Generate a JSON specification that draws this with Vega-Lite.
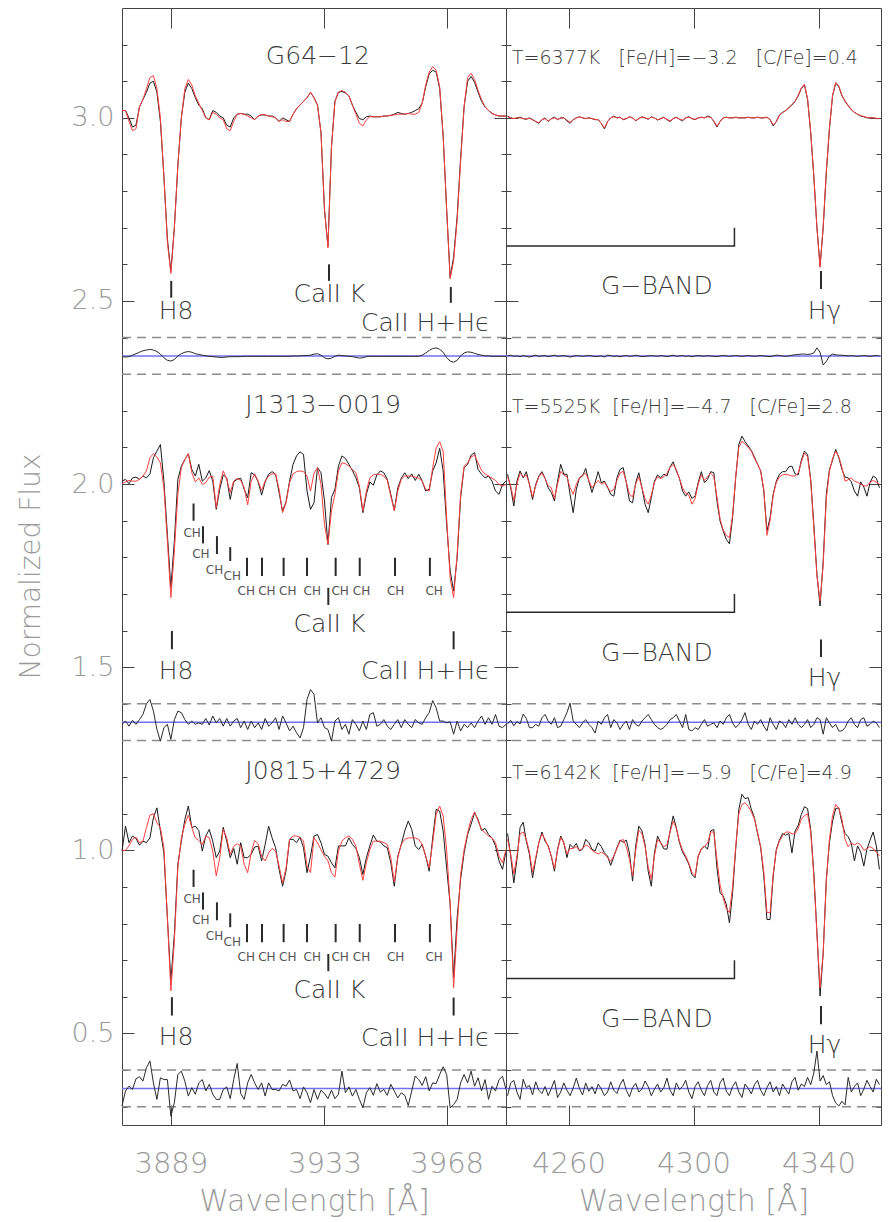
{
"$schema": "https://vega.github.io/schema/vega-lite/v6.json",
"background": "white",
"padding": {"left": 16, "top": 7, "right": 14, "bottom": 5},
"bounds": "flush",
"spacing": 0,
"config": {
  "view": {"stroke": "#444", "strokeWidth": 1},
  "font": "DejaVu Sans",
  "text": {"font": "DejaVu Sans", "fontWeight": 200},
  "axis": {"labelFont": "DejaVu Sans", "labelFontWeight": 200, "titleFont": "DejaVu Sans", "titleFontWeight": 200, "grid": false, "domain": false, "tickColor": "#444", "tickWidth": 1}
},
"datasets": {
"dash": [{"y":2.4},{"y":2.3},{"y":1.4},{"y":1.3},{"y":0.4},{"y":0.3}],
"blue": [{"y":2.35},{"y":1.35},{"y":0.35}],
"L": [
{"w":3875,"o1":3.02,"m1":3.02,"r1":2.348,"o2":2.008,"m2":2.001,"r2":1.344,"o3":0.998,"m3":0.998,"r3":0.302},
{"w":3876,"o1":3.02,"m1":3.02,"r1":2.347,"o2":2.013,"m2":2.006,"r2":1.353,"o3":1.066,"m3":1.0,"r3":0.343},
{"w":3877,"o1":3.0,"m1":2.99,"r1":2.348,"o2":2.001,"m2":2.01,"r2":1.339,"o3":1.021,"m3":1.012,"r3":0.356},
{"w":3878,"o1":2.975,"m1":2.965,"r1":2.352,"o2":2.017,"m2":2.008,"r2":1.355,"o3":1.039,"m3":1.03,"r3":0.347},
{"w":3879,"o1":2.98,"m1":2.97,"r1":2.356,"o2":2.019,"m2":2.008,"r2":1.344,"o3":1.033,"m3":1.036,"r3":0.376},
{"w":3880,"o1":3.03,"m1":3.03,"r1":2.36,"o2":2.013,"m2":2.013,"r2":1.357,"o3":1.014,"m3":1.021,"r3":0.382},
{"w":3881,"o1":3.05,"m1":3.05,"r1":2.364,"o2":2.022,"m2":2.022,"r2":1.371,"o3":1.025,"m3":1.025,"r3":0.37},
{"w":3882,"o1":3.07,"m1":3.08,"r1":2.366,"o2":2.017,"m2":2.036,"r2":1.4,"o3":1.021,"m3":1.062,"r3":0.406},
{"w":3883,"o1":3.095,"m1":3.11,"r1":2.368,"o2":2.028,"m2":2.072,"r2":1.412,"o3":1.034,"m3":1.096,"r3":0.425},
{"w":3884,"o1":3.1,"m1":3.115,"r1":2.366,"o2":2.072,"m2":2.083,"r2":1.38,"o3":1.089,"m3":1.1,"r3":0.365},
{"w":3885,"o1":3.07,"m1":3.08,"r1":2.362,"o2":2.09,"m2":2.074,"r2":1.33,"o3":1.116,"m3":1.075,"r3":0.32},
{"w":3886,"o1":2.99,"m1":3.0,"r1":2.355,"o2":2.108,"m2":2.058,"r2":1.298,"o3":1.053,"m3":1.062,"r3":0.379},
{"w":3887,"o1":2.84,"m1":2.84,"r1":2.345,"o2":2.008,"m2":1.99,"r2":1.335,"o3":0.993,"m3":1.007,"r3":0.374},
{"w":3888,"o1":2.67,"m1":2.66,"r1":2.338,"o2":1.863,"m2":1.845,"r2":1.344,"o3":0.816,"m3":0.816,"r3":0.374},
{"w":3889,"o1":2.58,"m1":2.575,"r1":2.336,"o2":1.717,"m2":1.69,"r2":1.303,"o3":0.643,"m3":0.616,"r3":0.274},
{"w":3890,"o1":2.7,"m1":2.7,"r1":2.34,"o2":1.845,"m2":1.817,"r2":1.357,"o3":0.77,"m3":0.752,"r3":0.311},
{"w":3891,"o1":2.87,"m1":2.87,"r1":2.35,"o2":2.013,"m2":1.972,"r2":1.38,"o3":0.962,"m3":0.952,"r3":0.388},
{"w":3892,"o1":3.0,"m1":3.0,"r1":2.356,"o2":2.049,"m2":2.045,"r2":1.376,"o3":1.025,"m3":1.034,"r3":0.397},
{"w":3893,"o1":3.07,"m1":3.08,"r1":2.36,"o2":2.067,"m2":2.067,"r2":1.357,"o3":1.084,"m3":1.071,"r3":0.37},
{"w":3894,"o1":3.095,"m1":3.105,"r1":2.362,"o2":2.083,"m2":2.083,"r2":1.344,"o3":1.121,"m3":1.096,"r3":0.329},
{"w":3895,"o1":3.08,"m1":3.09,"r1":2.36,"o2":2.04,"m2":2.031,"r2":1.353,"o3":1.062,"m3":1.062,"r3":0.352},
{"w":3896,"o1":3.055,"m1":3.06,"r1":2.356,"o2":2.022,"m2":2.006,"r2":1.344,"o3":1.066,"m3":1.034,"r3":0.334},
{"w":3897,"o1":3.035,"m1":3.04,"r1":2.354,"o2":2.054,"m2":2.017,"r2":1.348,"o3":1.054,"m3":1.027,"r3":0.365},
{"w":3898,"o1":3.025,"m1":3.02,"r1":2.352,"o2":2.008,"m2":1.999,"r2":1.344,"o3":0.998,"m3":1.016,"r3":0.374},
{"w":3899,"o1":3.0,"m1":3.0,"r1":2.35,"o2":2.017,"m2":2.004,"r2":1.36,"o3":1.039,"m3":1.039,"r3":0.343},
{"w":3900,"o1":2.995,"m1":2.995,"r1":2.349,"o2":2.037,"m2":2.019,"r2":1.342,"o3":1.057,"m3":1.034,"r3":0.361},
{"w":3901,"o1":3.02,"m1":3.015,"r1":2.348,"o2":2.008,"m2":2.022,"r2":1.367,"o3":1.025,"m3":0.998,"r3":0.334},
{"w":3902,"o1":3.015,"m1":3.01,"r1":2.347,"o2":1.931,"m2":1.936,"r2":1.348,"o3":0.98,"m3":0.93,"r3":0.32},
{"w":3903,"o1":3.005,"m1":3.0,"r1":2.346,"o2":1.986,"m2":1.999,"r2":1.36,"o3":0.998,"m3":0.98,"r3":0.32},
{"w":3904,"o1":3.0,"m1":2.995,"r1":2.346,"o2":2.025,"m2":2.036,"r2":1.339,"o3":1.063,"m3":1.057,"r3":0.347},
{"w":3905,"o1":2.98,"m1":2.97,"r1":2.347,"o2":2.017,"m2":2.013,"r2":1.36,"o3":1.025,"m3":1.034,"r3":0.354},
{"w":3906,"o1":2.975,"m1":2.965,"r1":2.348,"o2":1.958,"m2":1.977,"r2":1.339,"o3":0.98,"m3":0.989,"r3":0.322},
{"w":3907,"o1":3.0,"m1":2.99,"r1":2.348,"o2":2.006,"m2":2.008,"r2":1.353,"o3":1.005,"m3":1.011,"r3":0.374},
{"w":3908,"o1":3.01,"m1":3.01,"r1":2.348,"o2":2.013,"m2":2.016,"r2":1.36,"o3":0.962,"m3":1.018,"r3":0.418},
{"w":3909,"o1":3.012,"m1":3.012,"r1":2.348,"o2":2.016,"m2":2.01,"r2":1.335,"o3":1.021,"m3":1.012,"r3":0.336},
{"w":3910,"o1":3.01,"m1":3.01,"r1":2.349,"o2":1.986,"m2":1.99,"r2":1.353,"o3":0.98,"m3":0.962,"r3":0.32},
{"w":3911,"o1":3.01,"m1":3.005,"r1":2.349,"o2":1.963,"m2":1.943,"r2":1.33,"o3":0.98,"m3":0.939,"r3":0.365},
{"w":3912,"o1":3.005,"m1":3.0,"r1":2.349,"o2":2.031,"m2":2.008,"r2":1.353,"o3":0.989,"m3":0.993,"r3":0.388},
{"w":3913,"o1":2.995,"m1":2.995,"r1":2.349,"o2":2.025,"m2":2.028,"r2":1.335,"o3":1.009,"m3":1.027,"r3":0.365},
{"w":3914,"o1":3.005,"m1":3.005,"r1":2.349,"o2":2.006,"m2":2.008,"r2":1.348,"o3":1.011,"m3":1.018,"r3":0.347},
{"w":3915,"o1":3.008,"m1":3.01,"r1":2.349,"o2":1.97,"m2":1.983,"r2":1.33,"o3":0.971,"m3":0.984,"r3":0.365},
{"w":3916,"o1":3.008,"m1":3.008,"r1":2.349,"o2":2.006,"m2":2.008,"r2":1.36,"o3":1.016,"m3":0.971,"r3":0.329},
{"w":3917,"o1":3.005,"m1":3.005,"r1":2.349,"o2":2.027,"m2":2.022,"r2":1.339,"o3":1.066,"m3":0.993,"r3":0.365},
{"w":3918,"o1":3.005,"m1":3.003,"r1":2.349,"o2":2.034,"m2":2.028,"r2":1.348,"o3":1.034,"m3":1.005,"r3":0.347},
{"w":3919,"o1":3.0,"m1":3.0,"r1":2.349,"o2":2.027,"m2":2.027,"r2":1.362,"o3":1.007,"m3":0.998,"r3":0.347},
{"w":3920,"o1":2.99,"m1":2.99,"r1":2.349,"o2":1.977,"m2":1.986,"r2":1.33,"o3":0.948,"m3":0.957,"r3":0.343},
{"w":3921,"o1":3.0,"m1":2.995,"r1":2.349,"o2":1.926,"m2":1.922,"r2":1.367,"o3":0.902,"m3":0.911,"r3":0.361},
{"w":3922,"o1":2.995,"m1":2.99,"r1":2.349,"o2":1.952,"m2":1.949,"r2":1.348,"o3":0.945,"m3":0.952,"r3":0.356},
{"w":3923,"o1":2.99,"m1":2.99,"r1":2.349,"o2":2.008,"m2":2.004,"r2":1.326,"o3":1.03,"m3":1.03,"r3":0.373},
{"w":3924,"o1":3.01,"m1":3.01,"r1":2.35,"o2":2.054,"m2":2.028,"r2":1.339,"o3":1.03,"m3":1.039,"r3":0.343},
{"w":3925,"o1":3.025,"m1":3.025,"r1":2.35,"o2":2.077,"m2":2.034,"r2":1.321,"o3":1.021,"m3":1.039,"r3":0.347},
{"w":3926,"o1":3.035,"m1":3.035,"r1":2.35,"o2":2.088,"m2":2.036,"r2":1.307,"o3":1.036,"m3":1.036,"r3":0.322},
{"w":3927,"o1":3.045,"m1":3.045,"r1":2.351,"o2":2.081,"m2":2.034,"r2":1.335,"o3":1.007,"m3":1.025,"r3":0.354},
{"w":3928,"o1":3.055,"m1":3.055,"r1":2.351,"o2":1.981,"m2":2.022,"r2":1.412,"o3":0.939,"m3":0.957,"r3":0.338},
{"w":3929,"o1":3.07,"m1":3.07,"r1":2.352,"o2":1.931,"m2":1.981,"r2":1.439,"o3":0.984,"m3":0.939,"r3":0.311},
{"w":3930,"o1":3.055,"m1":3.055,"r1":2.355,"o2":1.949,"m2":2.03,"r2":1.426,"o3":1.039,"m3":1.034,"r3":0.347},
{"w":3931,"o1":3.035,"m1":3.035,"r1":2.356,"o2":2.045,"m2":2.045,"r2":1.348,"o3":1.043,"m3":1.021,"r3":0.32},
{"w":3932,"o1":2.96,"m1":2.96,"r1":2.352,"o2":2.031,"m2":1.999,"r2":1.362,"o3":1.021,"m3":1.002,"r3":0.345},
{"w":3933,"o1":2.75,"m1":2.75,"r1":2.345,"o2":1.954,"m2":1.89,"r2":1.335,"o3":0.989,"m3":0.984,"r3":0.336},
{"w":3934,"o1":2.65,"m1":2.645,"r1":2.342,"o2":1.835,"m2":1.835,"r2":1.33,"o3":0.984,"m3":0.971,"r3":0.322},
{"w":3935,"o1":2.92,"m1":2.92,"r1":2.344,"o2":1.963,"m2":1.927,"r2":1.298,"o3":0.966,"m3":0.939,"r3":0.345},
{"w":3936,"o1":3.045,"m1":3.045,"r1":2.349,"o2":1.986,"m2":1.972,"r2":1.353,"o3":0.952,"m3":0.927,"r3":0.322},
{"w":3937,"o1":3.07,"m1":3.07,"r1":2.352,"o2":2.049,"m2":2.036,"r2":1.362,"o3":1.012,"m3":0.998,"r3":0.334},
{"w":3938,"o1":3.072,"m1":3.075,"r1":2.351,"o2":2.077,"m2":2.058,"r2":1.33,"o3":1.012,"m3":1.025,"r3":0.397},
{"w":3939,"o1":3.068,"m1":3.07,"r1":2.35,"o2":2.07,"m2":2.056,"r2":1.344,"o3":1.012,"m3":1.034,"r3":0.338},
{"w":3940,"o1":3.06,"m1":3.06,"r1":2.349,"o2":2.054,"m2":2.049,"r2":1.317,"o3":1.034,"m3":1.039,"r3":0.354},
{"w":3941,"o1":3.035,"m1":3.035,"r1":2.348,"o2":2.037,"m2":2.04,"r2":1.357,"o3":1.016,"m3":1.03,"r3":0.329},
{"w":3942,"o1":3.015,"m1":3.01,"r1":2.346,"o2":2.017,"m2":2.031,"r2":1.344,"o3":1.005,"m3":1.012,"r3":0.347},
{"w":3943,"o1":2.998,"m1":2.985,"r1":2.344,"o2":1.99,"m2":1.995,"r2":1.326,"o3":0.98,"m3":0.962,"r3":0.32},
{"w":3944,"o1":2.995,"m1":2.978,"r1":2.345,"o2":1.922,"m2":1.927,"r2":1.353,"o3":0.934,"m3":0.918,"r3":0.297},
{"w":3945,"o1":3.003,"m1":2.995,"r1":2.348,"o2":1.972,"m2":1.981,"r2":1.33,"o3":0.98,"m3":0.966,"r3":0.338},
{"w":3946,"o1":3.005,"m1":3.003,"r1":2.349,"o2":2.006,"m2":2.017,"r2":1.371,"o3":1.012,"m3":1.002,"r3":0.352},
{"w":3947,"o1":3.003,"m1":3.003,"r1":2.349,"o2":1.997,"m2":2.025,"r2":1.376,"o3":1.042,"m3":1.025,"r3":0.331},
{"w":3948,"o1":3.003,"m1":3.003,"r1":2.349,"o2":2.025,"m2":2.027,"r2":1.339,"o3":1.025,"m3":1.025,"r3":0.363},
{"w":3949,"o1":3.003,"m1":3.003,"r1":2.349,"o2":2.036,"m2":2.027,"r2":1.344,"o3":1.023,"m3":1.025,"r3":0.34},
{"w":3950,"o1":3.005,"m1":3.005,"r1":2.349,"o2":2.031,"m2":2.022,"r2":1.357,"o3":1.012,"m3":1.021,"r3":0.347},
{"w":3951,"o1":3.005,"m1":3.005,"r1":2.349,"o2":2.013,"m2":2.01,"r2":1.339,"o3":1.007,"m3":1.016,"r3":0.331},
{"w":3952,"o1":3.007,"m1":3.007,"r1":2.349,"o2":1.972,"m2":1.967,"r2":1.33,"o3":0.966,"m3":0.98,"r3":0.361},
{"w":3953,"o1":3.01,"m1":3.008,"r1":2.349,"o2":1.928,"m2":1.927,"r2":1.344,"o3":0.902,"m3":0.914,"r3":0.343},
{"w":3954,"o1":3.015,"m1":3.01,"r1":2.349,"o2":1.99,"m2":1.981,"r2":1.357,"o3":0.984,"m3":0.98,"r3":0.324},
{"w":3955,"o1":3.012,"m1":3.01,"r1":2.349,"o2":2.016,"m2":2.013,"r2":1.335,"o3":1.016,"m3":1.016,"r3":0.338},
{"w":3956,"o1":3.01,"m1":3.01,"r1":2.349,"o2":2.031,"m2":2.022,"r2":1.357,"o3":1.053,"m3":1.03,"r3":0.331},
{"w":3957,"o1":3.012,"m1":3.012,"r1":2.349,"o2":2.015,"m2":2.022,"r2":1.344,"o3":1.08,"m3":1.034,"r3":0.303},
{"w":3958,"o1":3.015,"m1":3.01,"r1":2.349,"o2":2.028,"m2":2.022,"r2":1.335,"o3":1.057,"m3":1.034,"r3":0.343},
{"w":3959,"o1":3.02,"m1":3.01,"r1":2.349,"o2":2.01,"m2":2.019,"r2":1.357,"o3":1.012,"m3":1.034,"r3":0.384},
{"w":3960,"o1":3.025,"m1":3.015,"r1":2.349,"o2":2.027,"m2":2.016,"r2":1.348,"o3":1.002,"m3":1.03,"r3":0.374},
{"w":3961,"o1":3.04,"m1":3.04,"r1":2.352,"o2":2.008,"m2":2.008,"r2":1.344,"o3":1.016,"m3":1.016,"r3":0.358},
{"w":3962,"o1":3.085,"m1":3.09,"r1":2.358,"o2":1.981,"m2":1.986,"r2":1.362,"o3":0.984,"m3":0.984,"r3":0.382},
{"w":3963,"o1":3.12,"m1":3.125,"r1":2.365,"o2":1.986,"m2":1.981,"r2":1.376,"o3":0.943,"m3":0.952,"r3":0.343},
{"w":3964,"o1":3.13,"m1":3.14,"r1":2.37,"o2":2.036,"m2":2.045,"r2":1.409,"o3":1.034,"m3":1.021,"r3":0.365},
{"w":3965,"o1":3.125,"m1":3.13,"r1":2.372,"o2":2.058,"m2":2.099,"r2":1.389,"o3":1.112,"m3":1.098,"r3":0.363},
{"w":3966,"o1":3.08,"m1":3.085,"r1":2.368,"o2":2.098,"m2":2.116,"r2":1.353,"o3":1.107,"m3":1.121,"r3":0.388},
{"w":3967,"o1":2.95,"m1":2.95,"r1":2.36,"o2":2.036,"m2":2.09,"r2":1.353,"o3":1.053,"m3":1.093,"r3":0.409},
{"w":3968,"o1":2.75,"m1":2.75,"r1":2.345,"o2":1.89,"m2":1.908,"r2":1.348,"o3":0.952,"m3":1.002,"r3":0.388},
{"w":3969,"o1":2.565,"m1":2.56,"r1":2.336,"o2":1.763,"m2":1.744,"r2":1.351,"o3":0.852,"m3":0.852,"r3":0.297},
{"w":3970,"o1":2.62,"m1":2.61,"r1":2.333,"o2":1.708,"m2":1.69,"r2":1.317,"o3":0.652,"m3":0.625,"r3":0.306},
{"w":3971,"o1":2.73,"m1":2.72,"r1":2.338,"o2":1.799,"m2":1.808,"r2":1.353,"o3":0.816,"m3":0.789,"r3":0.32},
{"w":3972,"o1":2.89,"m1":2.88,"r1":2.35,"o2":1.963,"m2":1.972,"r2":1.326,"o3":0.921,"m3":0.934,"r3":0.365},
{"w":3973,"o1":3.03,"m1":3.03,"r1":2.358,"o2":2.045,"m2":2.049,"r2":1.344,"o3":0.993,"m3":1.002,"r3":0.388},
{"w":3974,"o1":3.1,"m1":3.11,"r1":2.361,"o2":2.054,"m2":2.058,"r2":1.335,"o3":1.043,"m3":1.048,"r3":0.365},
{"w":3975,"o1":3.113,"m1":3.122,"r1":2.36,"o2":2.079,"m2":2.074,"r2":1.348,"o3":1.071,"m3":1.084,"r3":0.397},
{"w":3976,"o1":3.097,"m1":3.105,"r1":2.357,"o2":2.086,"m2":2.079,"r2":1.335,"o3":1.103,"m3":1.105,"r3":0.356},
{"w":3977,"o1":3.07,"m1":3.075,"r1":2.354,"o2":2.04,"m2":2.058,"r2":1.353,"o3":1.084,"m3":1.08,"r3":0.379},
{"w":3978,"o1":3.045,"m1":3.05,"r1":2.352,"o2":2.027,"m2":2.037,"r2":1.367,"o3":1.054,"m3":1.057,"r3":0.343},
{"w":3979,"o1":3.03,"m1":3.03,"r1":2.35,"o2":2.017,"m2":2.028,"r2":1.344,"o3":1.06,"m3":1.048,"r3":0.374},
{"w":3980,"o1":3.02,"m1":3.02,"r1":2.35,"o2":2.022,"m2":2.022,"r2":1.362,"o3":1.043,"m3":1.039,"r3":0.32},
{"w":3981,"o1":3.012,"m1":3.012,"r1":2.349,"o2":2.008,"m2":2.016,"r2":1.344,"o3":1.034,"m3":1.034,"r3":0.356},
{"w":3982,"o1":3.008,"m1":3.008,"r1":2.349,"o2":1.981,"m2":2.01,"r2":1.371,"o3":1.012,"m3":1.021,"r3":0.343},
{"w":3983,"o1":3.005,"m1":3.005,"r1":2.349,"o2":1.972,"m2":1.999,"r2":1.339,"o3":0.971,"m3":0.984,"r3":0.374},
{"w":3984,"o1":3.005,"m1":3.005,"r1":2.349,"o2":1.999,"m2":1.995,"r2":1.335,"o3":0.948,"m3":0.966,"r3":0.383},
{"w":3985,"o1":3.005,"m1":3.005,"r1":2.349,"o2":2.008,"m2":1.999,"r2":1.344,"o3":0.998,"m3":1.002,"r3":0.347}
],
"R": [
{"w":4240.5,"o1":3.005,"m1":3.003,"r1":2.35,"o2":2.027,"m2":2.02,"r2":1.345,"o3":1.046,"m3":1.03,"r3":0.33},
{"w":4241.5,"o1":3.0,"m1":3.0,"r1":2.352,"o2":1.99,"m2":1.995,"r2":1.355,"o3":0.984,"m3":0.99,"r3":0.365},
{"w":4242.5,"o1":2.998,"m1":2.998,"r1":2.349,"o2":1.94,"m2":1.955,"r2":1.34,"o3":0.911,"m3":0.935,"r3":0.372},
{"w":4243.5,"o1":3.0,"m1":3.0,"r1":2.35,"o2":2.008,"m2":2.0,"r2":1.352,"o3":0.975,"m3":0.985,"r3":0.34},
{"w":4244.5,"o1":3.002,"m1":3.0,"r1":2.348,"o2":2.036,"m2":2.03,"r2":1.345,"o3":1.062,"m3":1.045,"r3":0.32},
{"w":4245.5,"o1":2.998,"m1":2.998,"r1":2.351,"o2":2.017,"m2":2.02,"r2":1.372,"o3":1.077,"m3":1.05,"r3":0.375},
{"w":4246.5,"o1":2.996,"m1":2.997,"r1":2.349,"o2":2.034,"m2":2.025,"r2":1.36,"o3":1.025,"m3":1.03,"r3":0.352},
{"w":4247.5,"o1":3.0,"m1":2.999,"r1":2.347,"o2":1.999,"m2":2.0,"r2":1.335,"o3":0.989,"m3":0.995,"r3":0.358},
{"w":4248.5,"o1":2.995,"m1":2.995,"r1":2.35,"o2":1.958,"m2":1.965,"r2":1.335,"o3":0.925,"m3":0.94,"r3":0.332},
{"w":4249.5,"o1":2.99,"m1":2.99,"r1":2.352,"o2":1.999,"m2":1.995,"r2":1.344,"o3":0.975,"m3":0.98,"r3":0.368},
{"w":4250.5,"o1":2.985,"m1":2.987,"r1":2.349,"o2":2.022,"m2":2.02,"r2":1.339,"o3":1.021,"m3":1.02,"r3":0.345},
{"w":4251.5,"o1":2.995,"m1":2.995,"r1":2.35,"o2":2.034,"m2":2.03,"r2":1.362,"o3":1.05,"m3":1.045,"r3":0.336},
{"w":4252.5,"o1":3.0,"m1":2.998,"r1":2.351,"o2":2.016,"m2":2.015,"r2":1.371,"o3":1.025,"m3":1.03,"r3":0.355},
{"w":4253.5,"o1":2.99,"m1":2.992,"r1":2.348,"o2":1.99,"m2":1.995,"r2":1.353,"o3":1.013,"m3":1.01,"r3":0.33},
{"w":4254.5,"o1":2.998,"m1":2.997,"r1":2.35,"o2":1.977,"m2":1.99,"r2":1.344,"o3":0.983,"m3":0.985,"r3":0.35},
{"w":4255.5,"o1":3.002,"m1":3.0,"r1":2.352,"o2":1.954,"m2":1.96,"r2":1.362,"o3":0.943,"m3":0.95,"r3":0.372},
{"w":4256.5,"o1":2.995,"m1":2.996,"r1":2.349,"o2":2.008,"m2":2.0,"r2":1.335,"o3":1.003,"m3":1.0,"r3":0.325},
{"w":4257.5,"o1":3.0,"m1":2.999,"r1":2.35,"o2":2.054,"m2":2.035,"r2":1.339,"o3":1.039,"m3":1.035,"r3":0.34},
{"w":4258.5,"o1":3.0,"m1":3.0,"r1":2.351,"o2":2.027,"m2":2.025,"r2":1.357,"o3":1.021,"m3":1.02,"r3":0.365},
{"w":4259.5,"o1":2.992,"m1":2.994,"r1":2.349,"o2":2.027,"m2":2.02,"r2":1.376,"o3":0.98,"m3":0.99,"r3":0.345},
{"w":4260.5,"o1":2.985,"m1":2.988,"r1":2.347,"o2":1.972,"m2":1.99,"r2":1.402,"o3":1.016,"m3":1.005,"r3":0.33},
{"w":4261.5,"o1":2.995,"m1":2.995,"r1":2.349,"o2":1.922,"m2":1.972,"r2":1.353,"o3":1.007,"m3":1.005,"r3":0.351},
{"w":4262.5,"o1":3.0,"m1":3.0,"r1":2.351,"o2":1.986,"m2":2.0,"r2":1.344,"o3":1.019,"m3":1.01,"r3":0.378},
{"w":4263.5,"o1":3.003,"m1":3.002,"r1":2.35,"o2":2.017,"m2":2.017,"r2":1.335,"o3":0.998,"m3":1.0,"r3":0.35},
{"w":4264.5,"o1":3.0,"m1":3.0,"r1":2.349,"o2":2.022,"m2":2.025,"r2":1.348,"o3":1.003,"m3":1.005,"r3":0.332},
{"w":4265.5,"o1":2.998,"m1":2.998,"r1":2.35,"o2":2.043,"m2":2.03,"r2":1.357,"o3":1.03,"m3":1.015,"r3":0.365},
{"w":4266.5,"o1":3.0,"m1":3.0,"r1":2.351,"o2":2.008,"m2":2.01,"r2":1.344,"o3":1.021,"m3":1.01,"r3":0.342},
{"w":4267.5,"o1":2.998,"m1":2.998,"r1":2.35,"o2":1.977,"m2":1.99,"r2":1.335,"o3":1.003,"m3":1.0,"r3":0.355},
{"w":4268.5,"o1":2.995,"m1":2.996,"r1":2.348,"o2":2.004,"m2":2.0,"r2":1.32,"o3":0.998,"m3":0.995,"r3":0.335},
{"w":4269.5,"o1":2.995,"m1":2.995,"r1":2.349,"o2":2.034,"m2":2.01,"r2":1.353,"o3":1.021,"m3":0.99,"r3":0.362},
{"w":4270.5,"o1":2.985,"m1":2.985,"r1":2.35,"o2":2.004,"m2":2.0,"r2":1.344,"o3":1.01,"m3":0.995,"r3":0.348},
{"w":4271.5,"o1":2.97,"m1":2.972,"r1":2.347,"o2":2.008,"m2":2.005,"r2":1.362,"o3":0.993,"m3":0.99,"r3":0.33},
{"w":4272.5,"o1":2.99,"m1":2.99,"r1":2.352,"o2":1.992,"m2":1.99,"r2":1.371,"o3":0.984,"m3":0.98,"r3":0.34},
{"w":4273.5,"o1":3.0,"m1":3.0,"r1":2.351,"o2":1.972,"m2":1.98,"r2":1.335,"o3":0.959,"m3":0.97,"r3":0.368},
{"w":4274.5,"o1":3.005,"m1":3.003,"r1":2.349,"o2":1.967,"m2":1.985,"r2":1.357,"o3":0.983,"m3":0.985,"r3":0.345},
{"w":4275.5,"o1":3.0,"m1":3.0,"r1":2.35,"o2":2.017,"m2":2.01,"r2":1.348,"o3":1.007,"m3":1.005,"r3":0.336},
{"w":4276.5,"o1":3.002,"m1":3.001,"r1":2.348,"o2":2.04,"m2":2.03,"r2":1.33,"o3":1.028,"m3":1.025,"r3":0.36},
{"w":4277.5,"o1":2.995,"m1":2.996,"r1":2.35,"o2":2.045,"m2":2.035,"r2":1.344,"o3":1.022,"m3":1.03,"r3":0.375},
{"w":4278.5,"o1":2.998,"m1":2.998,"r1":2.351,"o2":2.004,"m2":2.005,"r2":1.353,"o3":1.028,"m3":1.01,"r3":0.345},
{"w":4279.5,"o1":3.003,"m1":3.002,"r1":2.349,"o2":1.954,"m2":1.972,"r2":1.33,"o3":0.993,"m3":0.975,"r3":0.327},
{"w":4280.5,"o1":3.0,"m1":3.0,"r1":2.35,"o2":1.949,"m2":1.965,"r2":1.357,"o3":0.916,"m3":0.93,"r3":0.352},
{"w":4281.5,"o1":2.992,"m1":2.993,"r1":2.352,"o2":2.004,"m2":2.0,"r2":1.344,"o3":1.012,"m3":1.0,"r3":0.364},
{"w":4282.5,"o1":2.998,"m1":2.998,"r1":2.35,"o2":2.031,"m2":2.02,"r2":1.339,"o3":1.066,"m3":1.055,"r3":0.34},
{"w":4283.5,"o1":3.003,"m1":3.002,"r1":2.348,"o2":1.99,"m2":1.99,"r2":1.353,"o3":1.053,"m3":1.045,"r3":0.348},
{"w":4284.5,"o1":3.0,"m1":3.0,"r1":2.349,"o2":1.945,"m2":1.96,"r2":1.362,"o3":1.016,"m3":1.01,"r3":0.37},
{"w":4285.5,"o1":2.996,"m1":2.997,"r1":2.35,"o2":1.922,"m2":1.945,"r2":1.371,"o3":0.943,"m3":0.955,"r3":0.355},
{"w":4286.5,"o1":3.003,"m1":3.002,"r1":2.351,"o2":1.963,"m2":1.97,"r2":1.357,"o3":0.902,"m3":0.92,"r3":0.33},
{"w":4287.5,"o1":3.0,"m1":3.0,"r1":2.35,"o2":2.008,"m2":2.005,"r2":1.344,"o3":0.993,"m3":0.985,"r3":0.348},
{"w":4288.5,"o1":2.994,"m1":2.995,"r1":2.349,"o2":2.025,"m2":2.02,"r2":1.335,"o3":1.039,"m3":1.03,"r3":0.362},
{"w":4289.5,"o1":2.998,"m1":2.998,"r1":2.351,"o2":2.017,"m2":2.015,"r2":1.33,"o3":1.021,"m3":1.02,"r3":0.34},
{"w":4290.5,"o1":3.002,"m1":3.001,"r1":2.35,"o2":2.027,"m2":2.02,"r2":1.335,"o3":1.004,"m3":1.01,"r3":0.352},
{"w":4291.5,"o1":2.995,"m1":2.996,"r1":2.348,"o2":2.022,"m2":2.03,"r2":1.344,"o3":1.003,"m3":1.015,"r3":0.378},
{"w":4292.5,"o1":2.99,"m1":2.992,"r1":2.35,"o2":2.047,"m2":2.045,"r2":1.357,"o3":1.053,"m3":1.05,"r3":0.345},
{"w":4293.5,"o1":2.998,"m1":2.998,"r1":2.352,"o2":2.061,"m2":2.054,"r2":1.362,"o3":1.094,"m3":1.08,"r3":0.33},
{"w":4294.5,"o1":3.002,"m1":3.001,"r1":2.349,"o2":2.036,"m2":2.04,"r2":1.371,"o3":1.062,"m3":1.06,"r3":0.365},
{"w":4295.5,"o1":2.996,"m1":2.997,"r1":2.35,"o2":2.016,"m2":2.015,"r2":1.353,"o3":1.021,"m3":1.025,"r3":0.347},
{"w":4296.5,"o1":2.992,"m1":2.994,"r1":2.351,"o2":1.981,"m2":1.99,"r2":1.335,"o3":0.995,"m3":1.0,"r3":0.355},
{"w":4297.5,"o1":3.0,"m1":3.0,"r1":2.349,"o2":1.967,"m2":1.975,"r2":1.371,"o3":0.98,"m3":0.985,"r3":0.372},
{"w":4298.5,"o1":3.003,"m1":3.002,"r1":2.35,"o2":1.979,"m2":1.97,"r2":1.33,"o3":0.962,"m3":0.965,"r3":0.34},
{"w":4299.5,"o1":2.998,"m1":2.998,"r1":2.348,"o2":1.961,"m2":1.945,"r2":1.326,"o3":0.934,"m3":0.94,"r3":0.322},
{"w":4300.5,"o1":2.995,"m1":2.996,"r1":2.35,"o2":1.967,"m2":1.96,"r2":1.335,"o3":0.925,"m3":0.93,"r3":0.355},
{"w":4301.5,"o1":3.0,"m1":3.0,"r1":2.351,"o2":2.004,"m2":2.0,"r2":1.33,"o3":0.984,"m3":0.985,"r3":0.368},
{"w":4302.5,"o1":3.002,"m1":3.001,"r1":2.35,"o2":2.034,"m2":2.025,"r2":1.344,"o3":1.003,"m3":1.005,"r3":0.345},
{"w":4303.5,"o1":3.0,"m1":3.0,"r1":2.349,"o2":2.004,"m2":2.01,"r2":1.357,"o3":1.012,"m3":1.01,"r3":0.33},
{"w":4304.5,"o1":3.005,"m1":3.003,"r1":2.351,"o2":2.013,"m2":2.02,"r2":1.339,"o3":1.003,"m3":1.02,"r3":0.358},
{"w":4305.5,"o1":3.002,"m1":3.001,"r1":2.35,"o2":2.034,"m2":2.03,"r2":1.344,"o3":1.053,"m3":1.05,"r3":0.372},
{"w":4306.5,"o1":2.99,"m1":2.992,"r1":2.349,"o2":2.031,"m2":2.02,"r2":1.348,"o3":1.057,"m3":1.05,"r3":0.34},
{"w":4307.5,"o1":2.975,"m1":2.977,"r1":2.348,"o2":1.954,"m2":1.965,"r2":1.335,"o3":0.952,"m3":0.975,"r3":0.33},
{"w":4308.5,"o1":2.99,"m1":2.99,"r1":2.35,"o2":1.899,"m2":1.905,"r2":1.353,"o3":0.884,"m3":0.905,"r3":0.365},
{"w":4309.5,"o1":3.0,"m1":3.0,"r1":2.351,"o2":1.872,"m2":1.875,"r2":1.344,"o3":0.875,"m3":0.87,"r3":0.378},
{"w":4310.5,"o1":3.002,"m1":3.001,"r1":2.35,"o2":1.849,"m2":1.86,"r2":1.362,"o3":0.852,"m3":0.84,"r3":0.342},
{"w":4311.5,"o1":3.0,"m1":3.0,"r1":2.349,"o2":1.837,"m2":1.854,"r2":1.371,"o3":0.802,"m3":0.83,"r3":0.33},
{"w":4312.5,"o1":3.0,"m1":3.0,"r1":2.35,"o2":1.908,"m2":1.915,"r2":1.348,"o3":0.884,"m3":0.9,"r3":0.355},
{"w":4313.5,"o1":3.002,"m1":3.001,"r1":2.351,"o2":2.017,"m2":2.02,"r2":1.335,"o3":1.003,"m3":1.01,"r3":0.368},
{"w":4314.5,"o1":3.0,"m1":3.0,"r1":2.35,"o2":2.108,"m2":2.1,"r2":1.344,"o3":1.112,"m3":1.1,"r3":0.34},
{"w":4315.5,"o1":3.0,"m1":3.0,"r1":2.349,"o2":2.131,"m2":2.117,"r2":1.357,"o3":1.153,"m3":1.125,"r3":0.325},
{"w":4316.5,"o1":3.0,"m1":3.0,"r1":2.35,"o2":2.116,"m2":2.11,"r2":1.376,"o3":1.141,"m3":1.13,"r3":0.362},
{"w":4317.5,"o1":3.002,"m1":3.001,"r1":2.351,"o2":2.104,"m2":2.1,"r2":1.344,"o3":1.144,"m3":1.12,"r3":0.35},
{"w":4318.5,"o1":3.0,"m1":3.0,"r1":2.35,"o2":2.092,"m2":2.09,"r2":1.33,"o3":1.112,"m3":1.105,"r3":0.335},
{"w":4319.5,"o1":3.0,"m1":3.0,"r1":2.349,"o2":2.074,"m2":2.07,"r2":1.353,"o3":1.089,"m3":1.085,"r3":0.36},
{"w":4320.5,"o1":3.002,"m1":3.001,"r1":2.35,"o2":2.054,"m2":2.055,"r2":1.344,"o3":1.046,"m3":1.05,"r3":0.372},
{"w":4321.5,"o1":3.0,"m1":3.0,"r1":2.351,"o2":2.036,"m2":2.035,"r2":1.357,"o3":1.007,"m3":1.01,"r3":0.345},
{"w":4322.5,"o1":3.0,"m1":3.0,"r1":2.35,"o2":1.981,"m2":1.985,"r2":1.339,"o3":0.93,"m3":0.94,"r3":0.33},
{"w":4323.5,"o1":3.002,"m1":3.001,"r1":2.349,"o2":1.872,"m2":1.86,"r2":1.326,"o3":0.811,"m3":0.83,"r3":0.352},
{"w":4324.5,"o1":2.995,"m1":2.996,"r1":2.348,"o2":1.908,"m2":1.9,"r2":1.362,"o3":0.811,"m3":0.83,"r3":0.368},
{"w":4325.5,"o1":2.978,"m1":2.98,"r1":2.35,"o2":1.972,"m2":1.97,"r2":1.344,"o3":0.93,"m3":0.935,"r3":0.34},
{"w":4326.5,"o1":2.99,"m1":2.99,"r1":2.352,"o2":2.008,"m2":2.005,"r2":1.33,"o3":1.003,"m3":1.0,"r3":0.355},
{"w":4327.5,"o1":3.008,"m1":3.007,"r1":2.351,"o2":2.027,"m2":2.02,"r2":1.353,"o3":1.028,"m3":1.025,"r3":0.33},
{"w":4328.5,"o1":3.015,"m1":3.014,"r1":2.35,"o2":2.034,"m2":2.025,"r2":1.348,"o3":1.046,"m3":1.04,"r3":0.362},
{"w":4329.5,"o1":3.02,"m1":3.02,"r1":2.349,"o2":2.034,"m2":2.027,"r2":1.335,"o3":1.041,"m3":1.05,"r3":0.348},
{"w":4330.5,"o1":3.028,"m1":3.028,"r1":2.35,"o2":2.047,"m2":2.025,"r2":1.357,"o3":1.046,"m3":1.05,"r3":0.335},
{"w":4331.5,"o1":3.035,"m1":3.036,"r1":2.352,"o2":2.049,"m2":2.022,"r2":1.344,"o3":0.993,"m3":1.045,"r3":0.368},
{"w":4332.5,"o1":3.045,"m1":3.046,"r1":2.353,"o2":2.028,"m2":2.022,"r2":1.362,"o3":1.053,"m3":1.045,"r3":0.38},
{"w":4333.5,"o1":3.06,"m1":3.062,"r1":2.354,"o2":2.025,"m2":2.03,"r2":1.344,"o3":1.068,"m3":1.06,"r3":0.345},
{"w":4334.5,"o1":3.08,"m1":3.082,"r1":2.355,"o2":2.065,"m2":2.06,"r2":1.335,"o3":1.098,"m3":1.085,"r3":0.362},
{"w":4335.5,"o1":3.09,"m1":3.092,"r1":2.355,"o2":2.09,"m2":2.085,"r2":1.344,"o3":1.119,"m3":1.095,"r3":0.355},
{"w":4336.5,"o1":3.05,"m1":3.052,"r1":2.354,"o2":2.081,"m2":2.075,"r2":1.357,"o3":1.114,"m3":1.1,"r3":0.38},
{"w":4337.5,"o1":2.96,"m1":2.962,"r1":2.355,"o2":2.013,"m2":2.01,"r2":1.335,"o3":1.057,"m3":1.05,"r3":0.36},
{"w":4338.5,"o1":2.84,"m1":2.842,"r1":2.358,"o2":1.89,"m2":1.88,"r2":1.344,"o3":0.939,"m3":0.93,"r3":0.392},
{"w":4339.5,"o1":2.7,"m1":2.7,"r1":2.372,"o2":1.753,"m2":1.75,"r2":1.362,"o3":0.775,"m3":0.77,"r3":0.452},
{"w":4340.5,"o1":2.595,"m1":2.592,"r1":2.36,"o2":1.667,"m2":1.681,"r2":1.357,"o3":0.602,"m3":0.625,"r3":0.37},
{"w":4341.5,"o1":2.7,"m1":2.705,"r1":2.325,"o2":1.79,"m2":1.78,"r2":1.317,"o3":0.72,"m3":0.72,"r3":0.385},
{"w":4342.5,"o1":2.85,"m1":2.855,"r1":2.335,"o2":1.972,"m2":1.96,"r2":1.362,"o3":0.921,"m3":0.915,"r3":0.36},
{"w":4343.5,"o1":2.97,"m1":2.972,"r1":2.35,"o2":2.04,"m2":2.035,"r2":1.348,"o3":1.021,"m3":1.03,"r3":0.368},
{"w":4344.5,"o1":3.06,"m1":3.062,"r1":2.355,"o2":2.065,"m2":2.07,"r2":1.335,"o3":1.08,"m3":1.095,"r3":0.33},
{"w":4345.5,"o1":3.095,"m1":3.097,"r1":2.353,"o2":2.095,"m2":2.09,"r2":1.344,"o3":1.114,"m3":1.125,"r3":0.31},
{"w":4346.5,"o1":3.085,"m1":3.087,"r1":2.352,"o2":2.072,"m2":2.075,"r2":1.326,"o3":1.116,"m3":1.115,"r3":0.302},
{"w":4347.5,"o1":3.06,"m1":3.062,"r1":2.352,"o2":2.04,"m2":2.045,"r2":1.326,"o3":1.075,"m3":1.085,"r3":0.315},
{"w":4348.5,"o1":3.045,"m1":3.046,"r1":2.351,"o2":2.019,"m2":2.008,"r2":1.335,"o3":1.046,"m3":1.03,"r3":0.305},
{"w":4349.5,"o1":3.033,"m1":3.034,"r1":2.35,"o2":2.017,"m2":2.012,"r2":1.353,"o3":1.037,"m3":1.01,"r3":0.38},
{"w":4350.5,"o1":3.022,"m1":3.023,"r1":2.351,"o2":2.006,"m2":2.017,"r2":1.362,"o3":1.019,"m3":1.02,"r3":0.34},
{"w":4351.5,"o1":3.015,"m1":3.015,"r1":2.35,"o2":1.981,"m2":2.008,"r2":1.344,"o3":0.971,"m3":1.015,"r3":0.355},
{"w":4352.5,"o1":3.01,"m1":3.01,"r1":2.349,"o2":1.967,"m2":2.005,"r2":1.335,"o3":1.012,"m3":1.02,"r3":0.365},
{"w":4353.5,"o1":3.005,"m1":3.006,"r1":2.35,"o2":2.006,"m2":2.0,"r2":1.357,"o3":0.995,"m3":1.015,"r3":0.33},
{"w":4354.5,"o1":3.003,"m1":3.004,"r1":2.351,"o2":1.992,"m2":1.995,"r2":1.362,"o3":0.957,"m3":1.0,"r3":0.348},
{"w":4355.5,"o1":3.0,"m1":3.001,"r1":2.35,"o2":1.967,"m2":1.995,"r2":1.339,"o3":1.003,"m3":1.005,"r3":0.372},
{"w":4356.5,"o1":3.0,"m1":3.0,"r1":2.349,"o2":2.004,"m2":2.005,"r2":1.344,"o3":1.028,"m3":1.01,"r3":0.355},
{"w":4357.5,"o1":3.0,"m1":3.0,"r1":2.35,"o2":2.022,"m2":2.01,"r2":1.353,"o3":1.05,"m3":1.005,"r3":0.34},
{"w":4358.5,"o1":2.998,"m1":2.999,"r1":2.351,"o2":2.016,"m2":2.005,"r2":1.348,"o3":1.012,"m3":0.995,"r3":0.375},
{"w":4359.5,"o1":2.998,"m1":2.998,"r1":2.35,"o2":1.99,"m2":2.0,"r2":1.335,"o3":0.948,"m3":0.985,"r3":0.36}
],
"tL": [
{"x":3931.1,"y":3.146,"t":"G64−12"},
{"x":3890.5,"y":2.45,"t":"H8"},
{"x":3934.4,"y":2.497,"t":"CaII K"},
{"x":3962.0,"y":2.418,"t":"CaII H+Hϵ"},
{"x":3932.6,"y":2.195,"t":"J1313−0019"},
{"x":3890.5,"y":1.469,"t":"H8"},
{"x":3934.4,"y":1.597,"t":"CaII K"},
{"x":3962.0,"y":1.467,"t":"CaII H+Hϵ"},
{"x":3932.6,"y":1.196,"t":"J0815+4729"},
{"x":3890.5,"y":0.469,"t":"H8"},
{"x":3934.4,"y":0.597,"t":"CaII K"},
{"x":3962.0,"y":0.467,"t":"CaII H+Hϵ"}
],
"chL": [
{"x":3895.1,"y":1.856,"t":"CH"},{"x":3897.6,"y":1.799,"t":"CH"},{"x":3901.5,"y":1.755,"t":"CH"},{"x":3906.6,"y":1.738,"t":"CH"},
{"x":3910.6,"y":1.697,"t":"CH"},{"x":3916.5,"y":1.697,"t":"CH"},{"x":3922.5,"y":1.697,"t":"CH"},{"x":3929.5,"y":1.697,"t":"CH"},
{"x":3937.5,"y":1.697,"t":"CH"},{"x":3943.6,"y":1.697,"t":"CH"},{"x":3953.4,"y":1.697,"t":"CH"},{"x":3964.4,"y":1.697,"t":"CH"},
{"x":3895.1,"y":0.856,"t":"CH"},{"x":3897.6,"y":0.799,"t":"CH"},{"x":3901.5,"y":0.755,"t":"CH"},{"x":3906.6,"y":0.738,"t":"CH"},
{"x":3910.6,"y":0.697,"t":"CH"},{"x":3916.5,"y":0.697,"t":"CH"},{"x":3922.5,"y":0.697,"t":"CH"},{"x":3929.5,"y":0.697,"t":"CH"},
{"x":3937.5,"y":0.697,"t":"CH"},{"x":3943.6,"y":0.697,"t":"CH"},{"x":3953.4,"y":0.697,"t":"CH"},{"x":3964.4,"y":0.697,"t":"CH"}
],
"kL": [
{"x":3889.1,"y":2.555,"y2":2.509},{"x":3934.3,"y":2.6,"y2":2.555},{"x":3969.2,"y":2.538,"y2":2.495},
{"x":3889.3,"y":1.599,"y2":1.549},{"x":3934.1,"y":1.717,"y2":1.67},{"x":3970.0,"y":1.598,"y2":1.549},
{"x":3895.5,"y":1.947,"y2":1.9},{"x":3898.2,"y":1.885,"y2":1.838},{"x":3902.2,"y":1.858,"y2":1.809},{"x":3906.0,"y":1.828,"y2":1.79},
{"x":3910.8,"y":1.799,"y2":1.749},{"x":3915.1,"y":1.799,"y2":1.749},{"x":3921.3,"y":1.799,"y2":1.749},{"x":3928.0,"y":1.799,"y2":1.749},
{"x":3936.2,"y":1.799,"y2":1.749},{"x":3943.1,"y":1.799,"y2":1.749},{"x":3953.2,"y":1.799,"y2":1.749},{"x":3963.2,"y":1.799,"y2":1.749},
{"x":3889.3,"y":0.599,"y2":0.549},{"x":3934.1,"y":0.717,"y2":0.67},{"x":3970.0,"y":0.598,"y2":0.549},
{"x":3895.5,"y":0.947,"y2":0.9},{"x":3898.2,"y":0.885,"y2":0.838},{"x":3902.2,"y":0.858,"y2":0.809},{"x":3906.0,"y":0.828,"y2":0.79},
{"x":3910.8,"y":0.799,"y2":0.749},{"x":3915.1,"y":0.799,"y2":0.749},{"x":3921.3,"y":0.799,"y2":0.749},{"x":3928.0,"y":0.799,"y2":0.749},
{"x":3936.2,"y":0.799,"y2":0.749},{"x":3943.1,"y":0.799,"y2":0.749},{"x":3953.2,"y":0.799,"y2":0.749},{"x":3963.2,"y":0.799,"y2":0.749}
],
"tR": [
{"x":4241.9,"y":3.146,"t":"T=6377K\u00a0\u00a0\u00a0[Fe/H]=−3.2\u00a0\u00a0\u00a0[C/Fe]=0.4"},
{"x":4241.9,"y":2.195,"t":"T=5525K\u00a0\u00a0[Fe/H]=−4.7\u00a0\u00a0\u00a0[C/Fe]=2.8"},
{"x":4241.9,"y":1.196,"t":"T=6142K\u00a0\u00a0[Fe/H]=−5.9\u00a0\u00a0\u00a0[C/Fe]=4.9"}
],
"cR": [
{"x":4288.3,"y":2.518,"t":"G−BAND"},{"x":4341.9,"y":2.45,"t":"Hγ"},
{"x":4288.3,"y":1.517,"t":"G−BAND"},{"x":4341.9,"y":1.449,"t":"Hγ"},
{"x":4288.3,"y":0.518,"t":"G−BAND"},{"x":4341.9,"y":0.447,"t":"Hγ"}
],
"kR": [
{"x":4340.8,"y":2.582,"y2":2.533},{"x":4340.8,"y":1.576,"y2":1.528},{"x":4340.8,"y":0.575,"y2":0.525}
],
"gR": [
{"x":4240,"y":2.65,"g":1,"o":1},{"x":4313.1,"y":2.65,"g":1,"o":2},{"x":4313.1,"y":2.7,"g":1,"o":3},
{"x":4240,"y":1.65,"g":2,"o":1},{"x":4313.1,"y":1.65,"g":2,"o":2},{"x":4313.1,"y":1.7,"g":2,"o":3},
{"x":4240,"y":0.65,"g":3,"o":1},{"x":4313.1,"y":0.65,"g":3,"o":2},{"x":4313.1,"y":0.7,"g":3,"o":3}
]
},
"hconcat": [
{
  "width": 384, "height": 1117,
  "layer": [
    {"data": {"name": "dash"}, "mark": {"type": "rule", "color": "#8c8c8c", "strokeDash": [9, 6], "strokeWidth": 1.5},
     "encoding": {"y": {"field": "y", "type": "quantitative", "scale": {"domain": [0.25, 3.3], "nice": false, "zero": false}, "axis": null}}},
    {"data": {"name": "blue"}, "mark": {"type": "rule", "color": "#7070f0", "strokeWidth": 1.5},
     "encoding": {"y": {"field": "y", "type": "quantitative", "scale": {"domain": [0.25, 3.3], "nice": false, "zero": false}, "axis": null}}},
    {"data": {"name": "L"}, "transform": [{"fold": ["r1", "r2", "r3"], "as": ["k", "f"]}],
     "mark": {"type": "line", "color": "#2a2a2a", "strokeWidth": 1},
     "encoding": {"x": {"field": "w", "type": "quantitative", "scale": {"domain": [3875, 3985], "nice": false, "zero": false}, "axis": null},
                  "y": {"field": "f", "type": "quantitative", "scale": {"domain": [0.25, 3.3], "nice": false, "zero": false}, "axis": null},
                  "detail": {"field": "k"}}},
    {"data": {"name": "L"}, "transform": [{"fold": ["o1", "o2", "o3"], "as": ["k", "f"]}],
     "mark": {"type": "line", "color": "#1a1a1a", "strokeWidth": 1},
     "encoding": {"x": {"field": "w", "type": "quantitative", "scale": {"domain": [3875, 3985], "nice": false, "zero": false},
                        "axis": {"orient": "bottom", "values": [3889, 3933, 3968], "format": "d", "tickSize": -20, "labelFontSize": 29, "labelColor": "#9a9a9a", "labelPadding": 44, "title": "Wavelength [Å]", "titleFontSize": 30, "titleColor": "#9a9a9a", "titlePadding": 8}},
                  "y": {"field": "f", "type": "quantitative", "scale": {"domain": [0.25, 3.3], "nice": false, "zero": false},
                        "axis": {"orient": "left", "values": [0.3,0.4,0.5,0.6,0.7,0.8,0.9,1.0,1.1,1.2,1.3,1.4,1.5,1.6,1.7,1.8,1.9,2.0,2.1,2.2,2.3,2.4,2.5,2.6,2.7,2.8,2.9,3.0,3.1,3.2],
                                 "labelExpr": "indexof([0.5,1,1.5,2,2.5,3], datum.value) >= 0 ? format(datum.value, '.1f') : ''",
                                 "tickSize": {"condition": {"test": "indexof([0.5,1,1.5,2,2.5,3], datum.value) >= 0", "value": -12}, "value": -5},
                                 "labelFontSize": 27, "labelColor": "#9a9a9a", "labelPadding": 20,
                                 "title": "Normalized Flux", "titleFontSize": 28, "titleColor": "#9a9a9a", "titleX": -91, "titleY": 558, "titleAngle": 270, "titleAlign": "center", "titleBaseline": "middle"}},
                  "detail": {"field": "k"}}},
    {"data": {"name": "L"}, "transform": [{"fold": ["m1", "m2", "m3"], "as": ["k", "f"]}],
     "mark": {"type": "line", "color": "#ff4040", "strokeWidth": 1},
     "encoding": {"x": {"field": "w", "type": "quantitative", "scale": {"domain": [3875, 3985], "nice": false, "zero": false},
                        "axis": {"orient": "top", "values": [3889, 3933, 3968], "tickSize": -20, "labels": false, "title": null}},
                  "y": {"field": "f", "type": "quantitative", "scale": {"domain": [0.25, 3.3], "nice": false, "zero": false},
                        "axis": {"orient": "right", "values": [0.3,0.4,0.5,0.6,0.7,0.8,0.9,1.0,1.1,1.2,1.3,1.4,1.5,1.6,1.7,1.8,1.9,2.0,2.1,2.2,2.3,2.4,2.5,2.6,2.7,2.8,2.9,3.0,3.1,3.2],
                                 "tickSize": {"condition": {"test": "indexof([0.5,1,1.5,2,2.5,3], datum.value) >= 0", "value": -12}, "value": -5},
                                 "labels": false, "title": null}},
                  "detail": {"field": "k"}}},
    {"data": {"name": "kL"}, "mark": {"type": "rule", "color": "#2a2a2a", "strokeWidth": 2},
     "encoding": {"x": {"field": "x", "type": "quantitative", "scale": {"domain": [3875, 3985], "nice": false, "zero": false}, "axis": null},
                  "y": {"field": "y", "type": "quantitative", "scale": {"domain": [0.25, 3.3], "nice": false, "zero": false}, "axis": null},
                  "y2": {"field": "y2"}}},
    {"data": {"name": "tL"}, "mark": {"type": "text", "fontSize": 25, "color": "#3a3a3a", "align": "center", "baseline": "alphabetic"},
     "encoding": {"x": {"field": "x", "type": "quantitative", "scale": {"domain": [3875, 3985], "nice": false, "zero": false}, "axis": null},
                  "y": {"field": "y", "type": "quantitative", "scale": {"domain": [0.25, 3.3], "nice": false, "zero": false}, "axis": null},
                  "text": {"field": "t"}}},
    {"data": {"name": "chL"}, "mark": {"type": "text", "fontSize": 12, "fontWeight": 400, "color": "#555555", "align": "center", "baseline": "alphabetic"},
     "encoding": {"x": {"field": "x", "type": "quantitative", "scale": {"domain": [3875, 3985], "nice": false, "zero": false}, "axis": null},
                  "y": {"field": "y", "type": "quantitative", "scale": {"domain": [0.25, 3.3], "nice": false, "zero": false}, "axis": null},
                  "text": {"field": "t"}}}
  ],
  "resolve": {"axis": {"x": "independent", "y": "independent"}}
},
{
  "width": 375, "height": 1117,
  "layer": [
    {"data": {"name": "dash"}, "mark": {"type": "rule", "color": "#8c8c8c", "strokeDash": [9, 6], "strokeWidth": 1.5},
     "encoding": {"y": {"field": "y", "type": "quantitative", "scale": {"domain": [0.25, 3.3], "nice": false, "zero": false}, "axis": null}}},
    {"data": {"name": "blue"}, "mark": {"type": "rule", "color": "#7070f0", "strokeWidth": 1.5},
     "encoding": {"y": {"field": "y", "type": "quantitative", "scale": {"domain": [0.25, 3.3], "nice": false, "zero": false}, "axis": null}}},
    {"data": {"name": "R"}, "transform": [{"fold": ["r1", "r2", "r3"], "as": ["k", "f"]}],
     "mark": {"type": "line", "color": "#2a2a2a", "strokeWidth": 1},
     "encoding": {"x": {"field": "w", "type": "quantitative", "scale": {"domain": [4240, 4360], "nice": false, "zero": false}, "axis": null},
                  "y": {"field": "f", "type": "quantitative", "scale": {"domain": [0.25, 3.3], "nice": false, "zero": false}, "axis": null},
                  "detail": {"field": "k"}}},
    {"data": {"name": "R"}, "transform": [{"fold": ["o1", "o2", "o3"], "as": ["k", "f"]}],
     "mark": {"type": "line", "color": "#1a1a1a", "strokeWidth": 1},
     "encoding": {"x": {"field": "w", "type": "quantitative", "scale": {"domain": [4240, 4360], "nice": false, "zero": false},
                        "axis": {"orient": "bottom", "values": [4260, 4300, 4340], "format": "d", "tickSize": -20, "labelFontSize": 29, "labelColor": "#9a9a9a", "labelPadding": 44, "title": "Wavelength [Å]", "titleFontSize": 30, "titleColor": "#9a9a9a", "titlePadding": 8}},
                  "y": {"field": "f", "type": "quantitative", "scale": {"domain": [0.25, 3.3], "nice": false, "zero": false},
                        "axis": {"orient": "left", "values": [0.3,0.4,0.5,0.6,0.7,0.8,0.9,1.0,1.1,1.2,1.3,1.4,1.5,1.6,1.7,1.8,1.9,2.0,2.1,2.2,2.3,2.4,2.5,2.6,2.7,2.8,2.9,3.0,3.1,3.2],
                                 "tickSize": {"condition": {"test": "indexof([0.5,1,1.5,2,2.5,3], datum.value) >= 0", "value": -12}, "value": -5},
                                 "labels": false, "title": null}},
                  "detail": {"field": "k"}}},
    {"data": {"name": "R"}, "transform": [{"fold": ["m1", "m2", "m3"], "as": ["k", "f"]}],
     "mark": {"type": "line", "color": "#ff4040", "strokeWidth": 1},
     "encoding": {"x": {"field": "w", "type": "quantitative", "scale": {"domain": [4240, 4360], "nice": false, "zero": false},
                        "axis": {"orient": "top", "values": [4260, 4300, 4340], "tickSize": -20, "labels": false, "title": null}},
                  "y": {"field": "f", "type": "quantitative", "scale": {"domain": [0.25, 3.3], "nice": false, "zero": false},
                        "axis": {"orient": "right", "values": [0.3,0.4,0.5,0.6,0.7,0.8,0.9,1.0,1.1,1.2,1.3,1.4,1.5,1.6,1.7,1.8,1.9,2.0,2.1,2.2,2.3,2.4,2.5,2.6,2.7,2.8,2.9,3.0,3.1,3.2],
                                 "tickSize": {"condition": {"test": "indexof([0.5,1,1.5,2,2.5,3], datum.value) >= 0", "value": -12}, "value": -5},
                                 "labels": false, "title": null}},
                  "detail": {"field": "k"}}},
    {"data": {"name": "gR"}, "mark": {"type": "line", "color": "#2a2a2a", "strokeWidth": 1.5},
     "encoding": {"x": {"field": "x", "type": "quantitative", "scale": {"domain": [4240, 4360], "nice": false, "zero": false}, "axis": null},
                  "y": {"field": "y", "type": "quantitative", "scale": {"domain": [0.25, 3.3], "nice": false, "zero": false}, "axis": null},
                  "detail": {"field": "g"}, "order": {"field": "o"}}},
    {"data": {"name": "kR"}, "mark": {"type": "rule", "color": "#2a2a2a", "strokeWidth": 2},
     "encoding": {"x": {"field": "x", "type": "quantitative", "scale": {"domain": [4240, 4360], "nice": false, "zero": false}, "axis": null},
                  "y": {"field": "y", "type": "quantitative", "scale": {"domain": [0.25, 3.3], "nice": false, "zero": false}, "axis": null},
                  "y2": {"field": "y2"}}},
    {"data": {"name": "tR"}, "mark": {"type": "text", "fontSize": 19, "color": "#3a3a3a", "align": "left", "baseline": "alphabetic"},
     "encoding": {"x": {"field": "x", "type": "quantitative", "scale": {"domain": [4240, 4360], "nice": false, "zero": false}, "axis": null},
                  "y": {"field": "y", "type": "quantitative", "scale": {"domain": [0.25, 3.3], "nice": false, "zero": false}, "axis": null},
                  "text": {"field": "t"}}},
    {"data": {"name": "cR"}, "mark": {"type": "text", "fontSize": 25, "color": "#3a3a3a", "align": "center", "baseline": "alphabetic"},
     "encoding": {"x": {"field": "x", "type": "quantitative", "scale": {"domain": [4240, 4360], "nice": false, "zero": false}, "axis": null},
                  "y": {"field": "y", "type": "quantitative", "scale": {"domain": [0.25, 3.3], "nice": false, "zero": false}, "axis": null},
                  "text": {"field": "t"}}}
  ],
  "resolve": {"axis": {"x": "independent", "y": "independent"}}
}
]
}
